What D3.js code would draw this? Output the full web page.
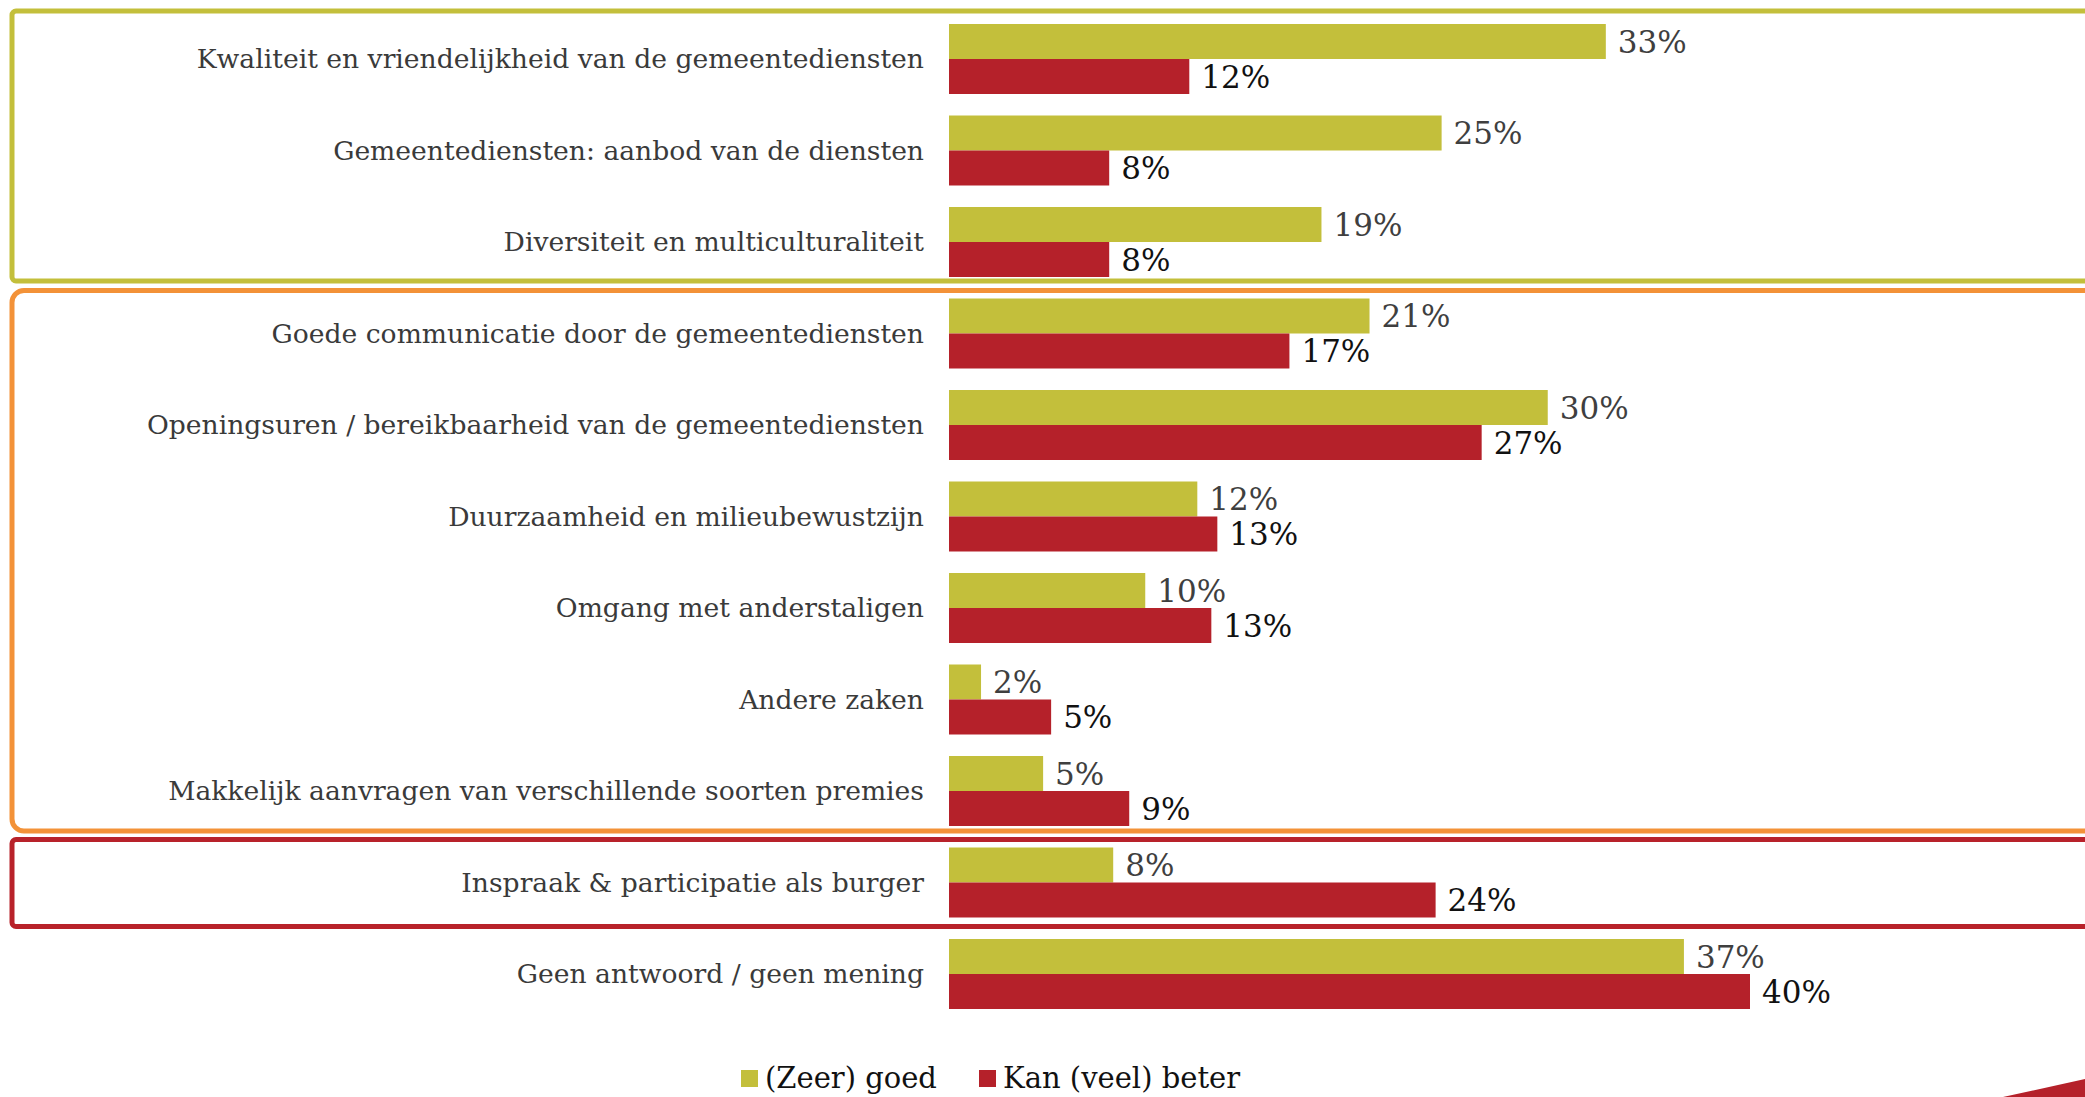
<!DOCTYPE html>
<html>
<head>
<meta charset="utf-8">
<script src="https://cdn.jsdelivr.net/npm/d3@7"></script>
<style>
  html, body { margin: 0; padding: 0; background: #ffffff; }
  svg { display: block; }
  text { font-family: "DejaVu Serif", "Liberation Serif", serif; }
</style>
</head>
<body>
<svg id="chart" width="2085" height="1097"></svg>
<script>
const categories = [
  "Kwaliteit en vriendelijkheid van de gemeentediensten",
  "Gemeentediensten: aanbod van de diensten",
  "Diversiteit en multiculturaliteit",
  "Goede communicatie door de gemeentediensten",
  "Openingsuren / bereikbaarheid van de gemeentediensten",
  "Duurzaamheid en milieubewustzijn",
  "Omgang met anderstaligen",
  "Andere zaken",
  "Makkelijk aanvragen van verschillende soorten premies",
  "Inspraak & participatie als burger",
  "Geen antwoord / geen mening"
];
const seriesNames = ["(Zeer) goed", "Kan (veel) beter"];
const goed  = [0.328, 0.246, 0.186, 0.21, 0.299, 0.124, 0.098, 0.016, 0.047, 0.082, 0.367];
const beter = [0.12, 0.08, 0.08, 0.17, 0.266, 0.134, 0.131, 0.051, 0.09, 0.243, 0.40];
const seriesColors = ["#c3bf3b", "#b5212a"];
const labelColors = ["#3f3f3f", "#111111"];
// frame groups: [first category index, last category index, colour]
const frameGroups = [
  [0, 2, "#c3bf3b"],
  [3, 8, "#f39238"],
  [9, 9, "#b8222a"]
];

const svg = d3.select("#chart");
const W = 2085, H = 1097;

const y = d3.scaleBand()
  .domain(categories)
  .range([2.5, 1030.5])
  .paddingInner(0.235)
  .paddingOuter(0.235);
const bw = y.bandwidth();
const sub = d3.scaleBand().domain(seriesNames).range([0, bw]);

const x = d3.scaleLinear().domain([0, 0.40]).range([949, 1750]);

// frames
const frames = svg.append("g");
frameGroups.forEach((g, i) => {
  const top = y(categories[g[0]]) - (i === 0 ? 13 : 8);
  const bottom = y(categories[g[1]]) + bw + (i === 0 ? 4 : i === 1 ? 5 : 9);
  frames.append("rect")
    .attr("x", 12).attr("y", top)
    .attr("width", W + 20).attr("height", bottom - top)
    .attr("rx", i === 1 ? 12 : 4)
    .attr("fill", "none")
    .attr("stroke", g[2])
    .attr("stroke-width", 5);
});

// category labels
svg.append("g").selectAll("text")
  .data(categories)
  .join("text")
  .attr("x", 924)
  .attr("y", d => y(d) + bw / 2)
  .attr("dy", "0.35em")
  .attr("text-anchor", "end")
  .attr("fill", "#3a3a3a")
  .style("font-size", "26.6px")
  .text(d => d);

const data = [goed, beter];
seriesNames.forEach((s, si) => {
  const g = svg.append("g");
  g.selectAll("rect")
    .data(categories)
    .join("rect")
    .attr("x", x(0))
    .attr("y", d => y(d) + sub(s))
    .attr("width", (d, i) => x(data[si][i]) - x(0))
    .attr("height", sub.bandwidth())
    .attr("fill", seriesColors[si]);
  g.selectAll("text")
    .data(categories)
    .join("text")
    .attr("x", (d, i) => x(data[si][i]) + 12)
    .attr("y", d => y(d) + sub(s) + sub.bandwidth() / 2)
    .attr("dy", "0.36em")
    .attr("fill", labelColors[si])
    .style("font-size", "31px")
    .text((d, i) => Math.round(data[si][i] * 100) + "%");
});

// legend
const legendX = [741, 979];
const legend = svg.append("g");
seriesNames.forEach((s, i) => {
  legend.append("rect")
    .attr("x", legendX[i]).attr("y", 1070)
    .attr("width", 17).attr("height", 17)
    .attr("fill", seriesColors[i]);
  legend.append("text")
    .attr("x", legendX[i] + 24).attr("y", 1078.5)
    .attr("dy", "0.34em")
    .attr("fill", "#111")
    .style("font-size", "29px")
    .text(s);
});

// decorative wedge bottom-right
svg.append("path")
  .attr("d", d3.line()([[2003, H], [W, 1079], [W, H]]) + "Z")
  .attr("fill", "#b5212a");
</script>
</body>
</html>
